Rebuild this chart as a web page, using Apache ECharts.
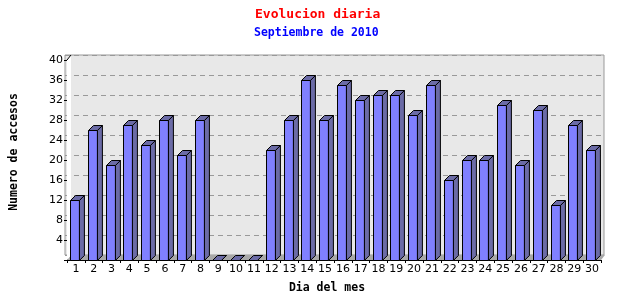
<!DOCTYPE html>
<html>
<head>
<meta charset="utf-8">
<script src="https://cdn.jsdelivr.net/npm/echarts@6/dist/echarts.min.js"></script>
<style>html,body{margin:0;padding:0;background:#fff}#c{width:640px;height:300px}</style>
</head>
<body>
<div id="c"></div>
<script>
const days = ['1','2','3','4','5','6','7','8','9','10','11','12','13','14','15','16','17','18','19','20','21','22','23','24','25','26','27','28','29','30'];
const accesos = [12,26,19,27,23,28,21,28,0,0,0,22,28,36,28,35,32,33,33,29,35,16,20,20,31,19,30,11,27,22];
const yTicks = [4,8,12,16,20,24,28,32,36,40];
const titleText = 'Evolucion diaria';
const subtitleText = 'Septiembre de 2010';
const xName = 'Dia del mes';
const yName = 'Numero de accesos';

const FRONT = '#8080ff', SIDE = '#6b6ba6', D = 5;
const mono = 'DejaVu Sans Mono';

const chart = echarts.init(document.getElementById('c'), null, {renderer: 'canvas'});
chart.setOption({
  animation: false,
  backgroundColor: '#fff',
  title: [
    {text: titleText, left: 250, top: 3, textStyle: {color: '#ff0000', fontFamily: mono, fontSize: 13, fontWeight: 'bold'}},
    {text: subtitleText, left: 249, top: 22, textStyle: {color: '#0000ff', fontFamily: mono, fontSize: 11.5, fontWeight: 'bold'}}
  ],
  grid: [
    {left: 61, right: 39, top: 60, bottom: 40, show: false},
    {left: 65, right: 36, top: 55, bottom: 45, show: true, backgroundColor: '#e8e8e8', borderColor: '#999', borderWidth: 1}
  ],
  xAxis: [
    {type: 'category', gridIndex: 0, data: days, boundaryGap: true,
     axisLine: {lineStyle: {color: '#000', width: 1}},
     axisTick: {show: true, length: 3, lineStyle: {color: '#000'}},
     axisLabel: {color: '#000', fontFamily: 'DejaVu Sans', fontSize: 11, margin: 4, interval: 0},
     name: xName, nameLocation: 'middle', nameGap: 22,
     nameTextStyle: {color: '#000', fontFamily: mono, fontSize: 11.5, fontWeight: 'bold', padding: [0, 14, 0, 0]}},
    {type: 'category', gridIndex: 1, data: days, show: false}
  ],
  yAxis: [
    {type: 'value', gridIndex: 0, min: 0, max: 40, interval: 4,
     axisLine: {show: true, lineStyle: {color: '#000', width: 1}},
     axisTick: {show: true, length: 3, lineStyle: {color: '#000'}},
     splitLine: {show: false},
     axisLabel: {color: '#000', fontFamily: 'DejaVu Sans', fontSize: 11, margin: 4,
       formatter: v => yTicks.indexOf(v) >= 0 ? String(v) : ''},
     name: yName, nameLocation: 'middle', nameRotate: 90, nameGap: 47,
     nameTextStyle: {color: '#000', fontFamily: mono, fontSize: 11.5, fontWeight: 'bold', padding: [0, 0, 0, 16]}},
    {type: 'value', gridIndex: 1, min: 0, max: 40, interval: 4,
     axisLine: {show: false}, axisTick: {show: false}, axisLabel: {show: false},
     splitLine: {show: true, lineStyle: {color: '#999', type: [5, 4], width: 1}}}
  ],
  series: [
    {
      type: 'custom', xAxisIndex: 0, yAxisIndex: 0, z: 1, silent: true,
      data: [[0, 0]],
      renderItem: function (params, api) {
        const cs = params.coordSys;
        const x0 = cs.x, x1 = cs.x + cs.width, yb = cs.y + cs.height, yt = cs.y;
        return {type: 'group', children: [
          {type: 'polygon', shape: {points: [[x0, yb], [x0 + 4, yb - D], [x1 + 4, yb - D], [x1, yb]]},
           style: {fill: '#a8a8a8', stroke: null}},
          {type: 'polygon', shape: {points: [[x0, yt], [x0 + 4, yt - D], [x0 + 4, yb - D], [x0, yb]]},
           style: {fill: '#ffffff', stroke: null}},
          {type: 'line', shape: {x1: x0, y1: yt, x2: x0 + 4, y2: yt - D}, style: {stroke: '#000', lineWidth: 1}}
        ]};
      }
    },
    {
      type: 'custom', xAxisIndex: 0, yAxisIndex: 0, z: 2,
      data: accesos.map((v, i) => [i, v]),
      encode: {x: 0, y: 1},
      renderItem: function (params, api) {
        const top = api.coord([api.value(0), api.value(1)]);
        const base = api.coord([api.value(0), 0]);
        const cw = api.size([1, 0])[0];
        const w = cw * 0.5;
        const x0 = Math.round(top[0] - cw / 3) + 0.5;
        const ty = Math.round(top[1]) + 0.5, by = Math.round(base[1]) + 0.5;
        const x1 = x0 + w;
        return {type: 'group', children: [
          {type: 'polygon', shape: {points: [[x1, ty], [x1 + D, ty - D], [x1 + D, by - D], [x1, by]]},
           style: {fill: SIDE, stroke: '#000', lineWidth: 1}},
          {type: 'polygon', shape: {points: [[x0, ty], [x0 + D, ty - D], [x1 + D, ty - D], [x1, ty]]},
           style: {fill: SIDE, stroke: '#000', lineWidth: 1}},
          {type: 'rect', shape: {x: x0, y: ty, width: w, height: by - ty},
           style: {fill: FRONT, stroke: '#000', lineWidth: 1}}
        ]};
      }
    }
  ]
});
</script>
</body>
</html>
